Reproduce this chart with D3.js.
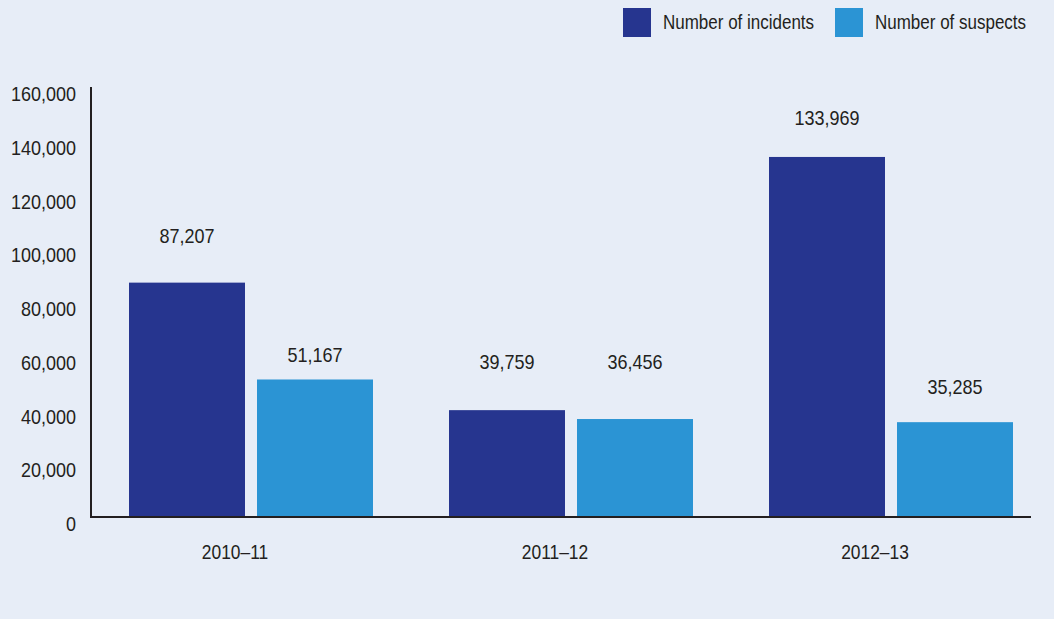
<!DOCTYPE html>
<html>
<head>
<meta charset="utf-8">
<script src="https://cdn.jsdelivr.net/npm/d3@7"></script>
<style>
  html, body { margin: 0; padding: 0; background: #e7edf7; }
  svg { display: block; }
  text { font-family: "Liberation Sans", Arial, sans-serif; fill: #231f20; }
</style>
</head>
<body>
<svg id="chart" width="1054" height="619"></svg>
<script>
// Financial years on the x axis
const years = ["2010\u201311", "2011\u201312", "2012\u201313"];
// Series
const seriesNames = ["Number of incidents", "Number of suspects"];
const incidents = [87207, 39759, 133969];
const suspects = [51167, 36456, 35285];
// Y axis ticks
const yTicks = [0, 20000, 40000, 60000, 80000, 100000, 120000, 140000, 160000];

// Vertical gap between each bar top and its value label
const labelLift = [[40, 17], [41, 50], [32, 28]];

const colors = ["#26358f", "#2b94d4"];
const W = 1054, H = 619;
const svg = d3.select("#chart");
svg.append("rect").attr("width", W).attr("height", H).attr("fill", "#e7edf7");

const plot = { left: 91, right: 1051, top: 87, bottom: 517 };

const x = d3.scaleBand().domain(years).range([plot.left, plot.right]);
const y = d3.scaleLinear().domain([0, 160000]).range([plot.bottom, plot.top]);
const fmt = d3.format(",");

// Condensed look: squeeze text horizontally around its anchor point
function narrow(sel, s) {
  sel.each(function () {
    const t = d3.select(this);
    const tx = +t.attr("x") || 0, ty = +t.attr("y") || 0;
    t.attr("transform", `translate(${tx},${ty}) scale(${s},1) translate(${-tx},${-ty})`);
  });
}

// Y axis labels (no tick marks)
const yAxis = d3.axisLeft(y).tickValues(yTicks).tickFormat(fmt).tickSize(0).tickPadding(15);
const gy = svg.append("g").attr("transform", `translate(${plot.left},0)`).call(yAxis);
gy.select(".domain").remove();
gy.attr("font-family", null);
gy.selectAll("text").attr("font-size", 20).attr("dy", "0.68em").call(narrow, 0.9);

// Bars
const bw = 116, gap = 12, pad = 38;
const data = years.map((yr, i) => ({ yr, i, vals: [incidents[i], suspects[i]] }));
const groups = svg.selectAll("g.grp").data(data).join("g")
  .attr("class", "grp")
  .attr("transform", d => `translate(${x(d.yr)},0)`);

groups.selectAll("rect").data(d => d.vals.map((v, k) => ({ v, k, i: d.i }))).join("rect")
  .attr("x", d => pad + d.k * (bw + gap))
  .attr("width", bw)
  .attr("y", d => y(d.v))
  .attr("height", d => y(0) - y(d.v))
  .attr("fill", d => colors[d.k]);

groups.selectAll("text.val").data(d => d.vals.map((v, k) => ({ v, k, i: d.i }))).join("text")
  .attr("class", "val")
  .attr("x", d => pad + d.k * (bw + gap) + bw / 2)
  .attr("y", d => y(d.v) - labelLift[d.i][d.k])
  .attr("text-anchor", "middle")
  .attr("font-size", 20)
  .text(d => fmt(d.v))
  .call(narrow, 0.9);

// Axis lines
svg.append("line")
  .attr("x1", plot.left).attr("x2", plot.left)
  .attr("y1", plot.top).attr("y2", plot.bottom + 1)
  .attr("stroke", "#231f20").attr("stroke-width", 2);
svg.append("line")
  .attr("x1", plot.left - 1).attr("x2", 1031)
  .attr("y1", plot.bottom).attr("y2", plot.bottom)
  .attr("stroke", "#231f20").attr("stroke-width", 2);

// Category labels
const xAxis = d3.axisBottom(x).tickSize(0).tickPadding(0);
const gx = svg.append("g").attr("transform", `translate(-16,${plot.bottom})`).call(xAxis);
gx.select(".domain").remove();
gx.attr("font-family", null);
gx.selectAll("text").attr("font-size", 20).attr("y", 42).attr("dy", 0).call(narrow, 0.87);

// Legend
const legendX = [623, 835];
const legend = svg.selectAll("g.leg").data(seriesNames).join("g")
  .attr("class", "leg")
  .attr("transform", (d, i) => `translate(${legendX[i]},8)`);
legend.append("rect").attr("width", 28).attr("height", 29).attr("fill", (d, i) => colors[i]);
legend.append("text").attr("x", 40).attr("y", 21.5).attr("font-size", 20).text(d => d).call(narrow, 0.85);
</script>
</body>
</html>
